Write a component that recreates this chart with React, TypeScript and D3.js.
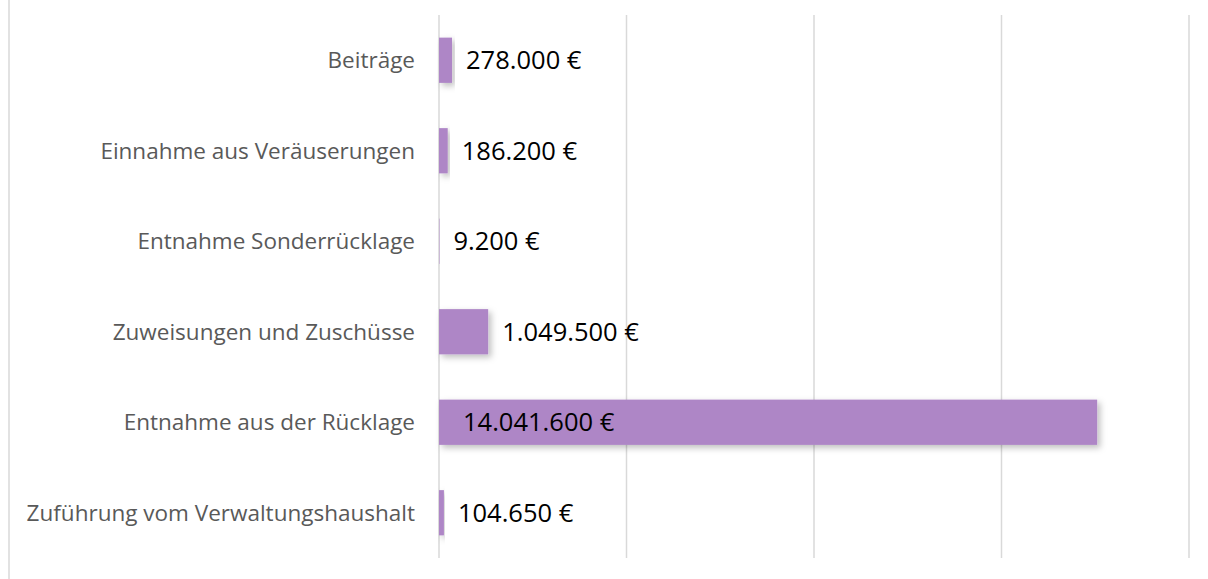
import React, { useEffect, useRef } from "react";
import * as d3 from "d3";

const categories = [
  "Beiträge",
  "Einnahme aus Veräuserungen",
  "Entnahme Sonderrücklage",
  "Zuweisungen und Zuschüsse",
  "Entnahme aus der Rücklage",
  "Zuführung vom Verwaltungshaushalt",
];
const values = [278000, 186200, 9200, 1049500, 14041600, 104650];
const gridTicks = [0, 4000000, 8000000, 12000000, 16000000];

const fmt = (v: number) => d3.format(",")(v).replace(/,/g, ".") + " €";

const App = () => {
  const ref = useRef<SVGSVGElement>(null);

  useEffect(() => {
    document.body.style.margin = "0";
    const width = 1208, height = 579;
    const left = 439, right = 1189, top = 15, bottom = 558;
    const font = "'Open Sans', sans-serif";

    const svg = d3.select(ref.current);
    svg.selectAll("*").remove();
    svg.attr("width", width).attr("height", height).style("display", "block");

    const defs = svg.append("defs");
    const f = defs.append("filter").attr("id", "shadow")
      .attr("x", "-10%").attr("y", "-30%").attr("width", "130%").attr("height", "180%");
    f.append("feDropShadow").attr("dx", 3).attr("dy", 3).attr("stdDeviation", 3)
      .attr("flood-color", "#000").attr("flood-opacity", 0.25);

    // left border
    svg.append("line").attr("x1", 9).attr("x2", 9).attr("y1", 0).attr("y2", height)
      .attr("stroke", "#d9d9d9").attr("stroke-width", 1.5);

    const x = d3.scaleLinear().domain([0, 16000000]).range([left, right]);
    const y = d3.scaleBand().domain(categories).range([top, bottom])
      .paddingInner(0.5).paddingOuter(0.25);

    svg.append("g").selectAll("line").data(gridTicks).enter().append("line")
      .attr("x1", d => x(d)).attr("x2", d => x(d))
      .attr("y1", top).attr("y2", bottom)
      .attr("stroke", "#d9d9d9").attr("stroke-width", 1.5);

    const data = categories.map((c, i) => ({ c, v: values[i] }));

    svg.append("g").selectAll("rect").data(data).enter().append("rect")
      .attr("x", x(0))
      .attr("y", d => y(d.c)!)
      .attr("width", d => x(d.v) - x(0))
      .attr("height", y.bandwidth())
      .attr("fill", "#ae86c6")
      .attr("filter", "url(#shadow)");

    svg.append("g").selectAll("text").data(data).enter().append("text")
      .attr("x", left - 24)
      .attr("y", d => y(d.c)! + y.bandwidth() / 2)
      .attr("dy", "0.35em")
      .attr("text-anchor", "end")
      .attr("font-family", font)
      .attr("font-size", 22.5)
      .attr("fill", "#595959")
      .text(d => d.c);

    svg.append("g").selectAll("text").data(data).enter().append("text")
      .attr("x", d => {
        const outside = x(d.v) + 14;
        return outside + 160 > right ? x(0) + 24 : outside;
      })
      .attr("y", d => y(d.c)! + y.bandwidth() / 2)
      .attr("dy", "0.36em")
      .attr("font-family", font)
      .attr("font-size", 25.5)
      .attr("fill", "#000")
      .text(d => fmt(d.v));
  }, []);

  return <svg ref={ref}></svg>;
};

export default App;
